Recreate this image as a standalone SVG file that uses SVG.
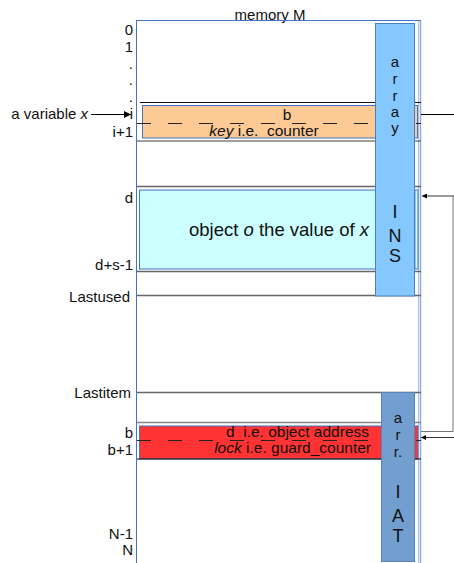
<svg xmlns="http://www.w3.org/2000/svg" width="454" height="563" viewBox="0 0 454 563">
<defs>
<style>
text{font-family:"Liberation Sans",Arial,sans-serif;fill:#111}
.lbl{font-size:15px;text-anchor:end}
.row{font-size:15.5px;white-space:pre}
.big{font-size:18px;text-anchor:middle}
.ltr{font-size:15px;text-anchor:middle}
.div{stroke:#666;stroke-width:1.5;fill:none}
.dash{stroke:#222;stroke-width:1;stroke-dasharray:14 17;fill:none}
.conn{stroke:#333;stroke-width:1;fill:none}
</style>
<marker id="ah" viewBox="0 0 10 10" refX="10" refY="5" markerWidth="7" markerHeight="7" orient="auto" markerUnits="userSpaceOnUse"><path d="M0,0L10,5L0,10z" fill="#000"/></marker>
<marker id="ahs" viewBox="0 0 10 10" refX="10" refY="5" markerWidth="5" markerHeight="5" orient="auto" markerUnits="userSpaceOnUse"><path d="M0,0L10,5L0,10z" fill="#000"/></marker>
</defs>
<rect width="454" height="563" fill="#fff"/>

<g id="memory">
<text x="270" y="20" font-size="15" text-anchor="middle">memory M</text>
<rect x="136.5" y="20.5" width="284" height="560" fill="none" stroke="#4472C4" stroke-width="1"/>
<line x1="418.5" y1="21" x2="418.5" y2="563" stroke="#a9bfe6" stroke-width="1"/>
<line x1="420.5" y1="21" x2="420.5" y2="563" stroke="#8eaadb" stroke-width="1.5"/>
</g>

<g id="labels">
<text x="133" y="35" class="lbl">0</text>
<text x="133" y="52" class="lbl">1</text>
<text x="133" y="69" class="lbl">.</text>
<text x="133" y="85" class="lbl">.</text>
<text x="133" y="102" class="lbl">.</text>
<text x="133" y="119" class="lbl">i</text>
<text x="133" y="136.5" class="lbl">i+1</text>
<text x="133" y="203" class="lbl">d</text>
<text x="133" y="270" class="lbl">d+s-1</text>
<text x="130" y="301.5" class="lbl">Lastused</text>
<text x="131" y="398" class="lbl">Lastitem</text>
<text x="133" y="438" class="lbl">b</text>
<text x="133" y="455" class="lbl">b+1</text>
<text x="133" y="539" class="lbl">N-1</text>
<text x="133" y="555" class="lbl">N</text>
</g>

<g id="var-x">
<text x="88" y="119" font-size="15" text-anchor="end">a variable <tspan font-style="italic">x</tspan></text>
</g>

<g id="row-i">
<line x1="140" y1="102.5" x2="421" y2="102.5" stroke="#111" stroke-width="1.2"/>
<line x1="137" y1="141" x2="421" y2="141" stroke="#444" stroke-width="1.2"/>
<rect x="142.5" y="105.5" width="275" height="32.5" fill="#FDC995" stroke="#4472C4" stroke-width="1"/>
<line x1="137" y1="123.5" x2="421" y2="123.5" class="dash"/>
<text x="287" y="120" class="row" text-anchor="middle">b</text>
<text x="264" y="136" class="row" text-anchor="middle" xml:space="preserve"><tspan font-style="italic">key</tspan> i.e.  counter</text>
</g>

<g id="object-o">
<line x1="137" y1="186.5" x2="421" y2="186.5" class="div"/>
<rect x="139.5" y="190" width="278.5" height="79" fill="#CCFFFF" stroke="#4472C4" stroke-width="1"/>
<line x1="415" y1="190" x2="415" y2="269" stroke="#4472C4" stroke-width="0.8"/>
<line x1="137" y1="271.5" x2="421" y2="271.5" class="div"/>
<text x="279" y="236" font-size="18.5" text-anchor="middle">object <tspan font-style="italic">o</tspan> the value of <tspan font-style="italic">x</tspan></text>
</g>

<g id="lastused">
<line x1="137" y1="295.5" x2="421" y2="295.5" class="div"/>
</g>

<g id="lastitem">
<line x1="137" y1="392.5" x2="421" y2="392.5" class="div"/>
</g>

<g id="row-b">
<line x1="137" y1="422.5" x2="421" y2="422.5" stroke="#888" stroke-width="1.5"/>
<rect x="139.5" y="426" width="278.5" height="33" fill="#FF3333" stroke="#4472C4" stroke-width="1"/>
<line x1="137" y1="459" x2="421" y2="459" stroke="#111" stroke-width="1.2"/>
<line x1="137" y1="440.5" x2="421" y2="440.5" class="dash"/>
<text x="369" y="436.5" class="row" text-anchor="end" xml:space="preserve">d  i.e. object address</text>
<text x="371" y="453" class="row" text-anchor="end"><tspan font-style="italic">lock</tspan> i.e. guard_counter</text>
</g>

<g id="ins">
<rect x="375.5" y="23.5" width="39" height="272.5" fill="#85C8FF" stroke="#4A7EC0" stroke-width="1"/>
<text x="395" y="67" class="ltr">a</text>
<text x="395" y="84" class="ltr">r</text>
<text x="395" y="100.5" class="ltr">r</text>
<text x="395" y="116.5" class="ltr">a</text>
<text x="395" y="133" class="ltr">y</text>
<text x="395" y="218" class="big">I</text>
<text x="395" y="242" class="big">N</text>
<text x="395" y="262" class="big">S</text>
</g>

<g id="iat">
<rect x="381.5" y="392.5" width="33" height="169" fill="#729FCF" stroke="#5A82B8" stroke-width="1"/>
<text x="398" y="423" class="ltr">a</text>
<text x="398" y="440" class="ltr">r</text>
<text x="398" y="457" class="ltr">r.</text>
<text x="398" y="498" class="big">I</text>
<text x="398" y="521.5" class="big">A</text>
<text x="398" y="541.5" class="big">T</text>
</g>

<g id="connectors">
<line x1="91" y1="114.5" x2="131" y2="114.5" stroke="#000" stroke-width="1.2" marker-end="url(#ah)"/>
<line x1="421" y1="114.5" x2="454" y2="114.5" stroke="#000" stroke-width="1"/>
<line x1="454" y1="196" x2="422" y2="196" class="conn" marker-end="url(#ahs)"/>
<polyline points="421,431.5 453,431.5 453,196" stroke="#777" stroke-width="1" fill="none"/>
<line x1="454" y1="437.5" x2="421" y2="437.5" class="conn" marker-end="url(#ahs)"/>
</g>
</svg>
